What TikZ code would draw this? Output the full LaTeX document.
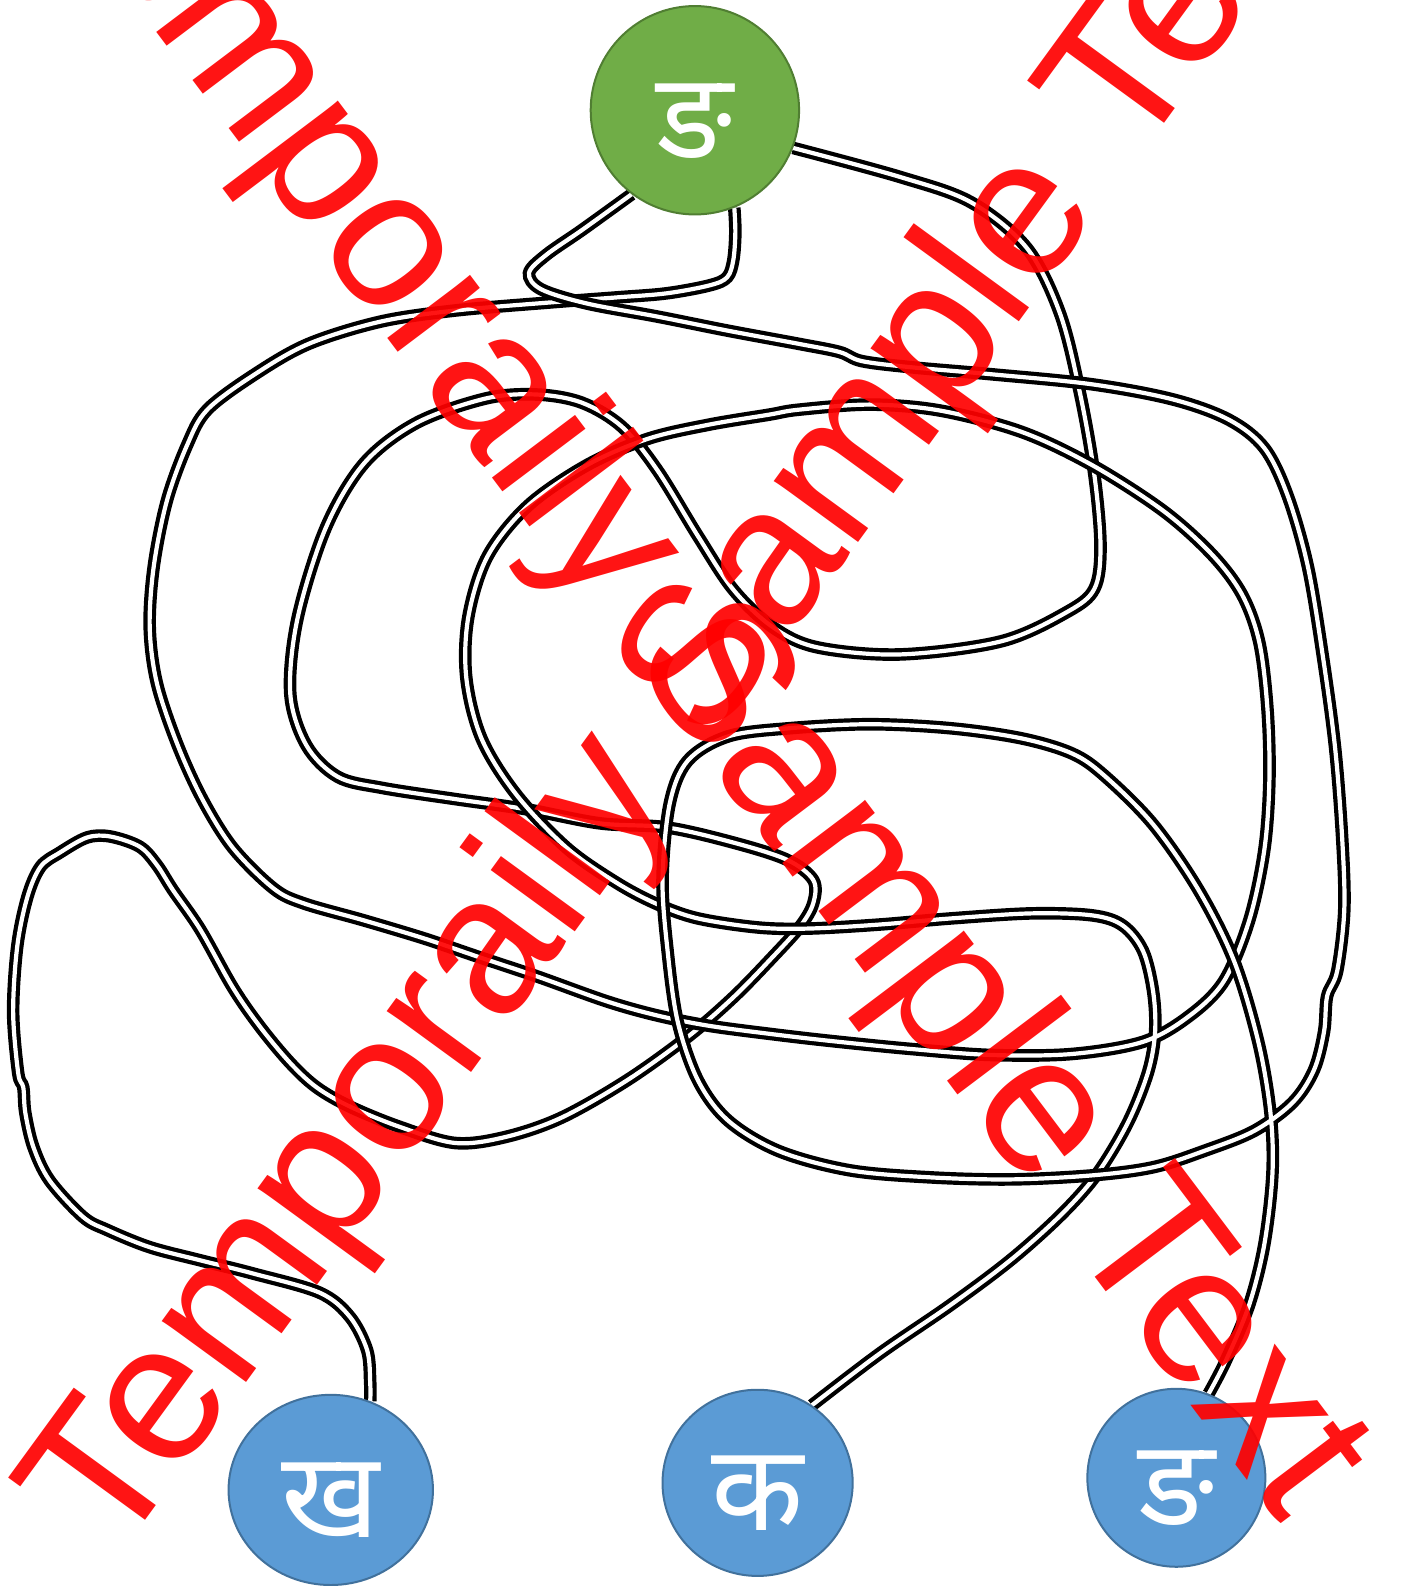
\documentclass[tikz,border=0pt]{standalone}
\usepackage{fontspec}
\newfontfamily\devfont[Script=Devanagari]{Noto Sans}
\newfontfamily\markfont{Liberation Sans}
\usepackage{tikz}
\usetikzlibrary{shapes.geometric,backgrounds}
\definecolor{leafgreen}{RGB}{112,173,71}
\definecolor{leafedge}{RGB}{80,126,50}
\definecolor{skyblue}{RGB}{91,155,213}
\definecolor{skyedge}{RGB}{65,113,156}

\begin{document}
\begin{tikzpicture}[x=0.50577pt, y=-0.50577pt,
	letter/.style={ellipse, draw=skyedge, line width=1pt, fill=skyblue, text=white, inner sep=0pt, text height=48pt, text depth=0pt, font=\devfont\fontsize{60}{60}\selectfont},
	wire/.style={draw=black, double=white, line width=2.1pt, double distance=2.1pt},
	stamp/.style={text=red, text opacity=0.92, inner sep=0pt, anchor=base west, font=\markfont\fontsize{98.5}{100}\selectfont}]
	\useasboundingbox (0, 0) rectangle (1386, 1568);

	\node at (687, 109) [letter, fill=leafgreen, draw=leafedge, minimum width=104.2pt, minimum height=104.2pt] (top) {ङ};
	\node at (327, 1473) [letter, minimum width=102.2pt, minimum height=95.1pt] (kha) {ख};
	\node at (749, 1466) [letter, minimum width=95.1pt, minimum height=93.1pt] (ka) {क};
	\node at (1163, 1461) [letter, minimum width=89pt, minimum height=89pt] (nga) {ङ};

	\begin{scope}[on background layer]
	\fill [white] (0, 0) rectangle (1386, 1568);
	% top -> kha
	\draw [wire] plot [smooth, tension=0.55] coordinates {(top.-21) (890,175) (960,200) (1015,245) (1048,310) (1068,390) (1082,470) (1088,540) (1082,582) (1055,605) (990,634) (890,647) (808,640) (764,620) (725,583) (690,530) (650,465) (615,422) (575,398) (530,390) (480,394) (412,418) (360,458) (322,522) (294,612) (287,686) (303,737) (334,768) (378,779) (450,790) (520,800) (593,814) (659,818) (725,833) (778,850) (804,870) (804,893) (791,916) (764,946) (725,986) (680,1025) (620,1068) (555,1105) (500,1124) (450,1130) (395,1114) (346,1094) (313,1075) (287,1051) (257,1015) (230,976) (198,919) (171,880) (155,855) (138,837) (109,827) (86,828) (59,843) (40,857) (27,887) (17,936) (13,1001) (18,1061) (23,1075) (25,1100) (33,1134) (49,1167) (82,1203) (106,1216) (148,1233) (198,1246) (250,1259) (316,1278) (346,1302) (363,1335) (366,1367) (kha.66)};
	% top -> ka
	\draw [wire] plot [smooth, tension=0.55] coordinates {(top.-68) (727,230) (725,257) (719,274) (702,282) (659,290) (610,294) (544,299) (450,307) (376,318) (305,340) (252,370) (205,405) (185,440) (165,495) (152,560) (148,620) (155,675) (175,735) (200,790) (230,838) (270,878) (300,893) (360,910) (420,928) (470,945) (530,965) (600,990) (650,1004) (700,1014) (760,1022) (820,1029) (900,1037) (980,1043) (1060,1042) (1130,1030) (1175,1005) (1210,970) (1235,910) (1250,840) (1255,770) (1253,700) (1245,635) (1228,588) (1198,548) (1150,505) (1080,460) (1010,427) (930,406) (860,400) (790,405) (760,410) (700,420) (640,434) (580,460) (522,500) (482,550) (463,610) (461,670) (476,730) (510,785) (560,838) (610,873) (650,894) (690,908) (750,917) (800,918) (870,914) (940,908) (1020,903) (1080,905) (1110,915) (1130,940) (1140,980) (1142,1020) (1135,1060) (1115,1110) (1085,1160) (1050,1200) (1000,1245) (940,1290) (870,1338) (ka.55)};
	% top -> nga
	\draw [wire] plot [smooth, tension=0.55] coordinates {(top.233) (576,227) (540,252) (523,270) (535,286) (580,300) (650,313) (720,327) (790,340) (830,348) (852,357) (900,363) (980,370) (1080,380) (1160,395) (1215,415) (1250,443) (1273,490) (1293,560) (1308,650) (1320,740) (1327,830) (1329,900) (1322,960) (1312,985) (1309,1020) (1299,1058) (1278,1090) (1240,1118) (1190,1138) (1140,1154) (1080,1162) (1000,1166) (920,1164) (840,1157) (770,1138) (720,1108) (690,1068) (670,1010) (660,940) (655,870) (662,795) (680,752) (720,728) (780,720) (860,716) (940,720) (1010,730) (1060,745) (1092,767) (1140,815) (1185,880) (1220,950) (1244,1030) (1256,1100) (1258,1160) (1250,1230) (1235,1290) (1212,1345) (nga.69)};
	\end{scope}

	% watermark
	\node at (114, 1544) [stamp, rotate=53.9] (markup) {Temporaily Sample Text};
	\node at (23, -143) [stamp, rotate=-53] (markdown) {Temporaily Sample Text};
\end{tikzpicture}
\end{document}
